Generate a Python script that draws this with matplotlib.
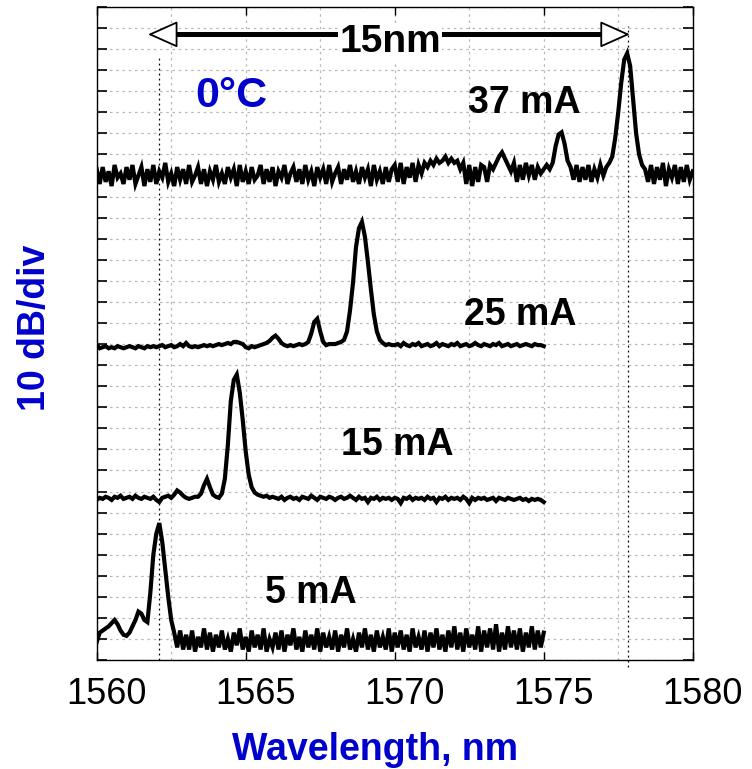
import numpy as np
import matplotlib
matplotlib.use('Agg')
import matplotlib.pyplot as plt
from matplotlib.transforms import ScaledTranslation

plt.rcParams['font.family'] = ['Liberation Sans', 'DejaVu Sans']

BLUE = '#0000cc'
STEP = 0.1  # nm between samples

# 37 mA trace, 1560.0 .. 1580.0 nm, in divisions (10 dB/div, stacked offset)
trace_37 = [
    23.3, 22.6, 23.4, 22.7, 23.2, 22.5, 23.5, 22.9, 23.1, 22.6,
    23.4, 22.8, 23.5, 22.6, 23.0, 23.4, 22.5, 23.3, 22.7, 23.5,
    22.6, 23.2, 22.9, 23.6, 22.7, 23.1, 22.5, 23.4, 22.8, 23.3,
    22.6, 23.5, 22.7, 23.0, 23.4, 22.6, 23.3, 22.5, 23.2, 22.8,
    23.5, 22.7, 23.1, 22.6, 23.4, 22.9, 23.3, 22.5, 23.5, 22.7,
    23.2, 22.6, 23.4, 22.8, 23.0, 23.5, 22.6, 23.3, 22.7, 23.4,
    22.5, 23.2, 22.9, 23.5, 22.6, 23.1, 23.4, 22.7, 23.3, 22.6,
    23.5, 22.8, 23.2, 22.5, 23.4, 22.9, 23.3, 22.6, 23.5, 22.7,
    23.1, 23.4, 22.6, 23.3, 22.8, 23.5, 22.7, 23.2, 22.6, 23.4,
    22.9, 23.3, 22.5, 23.5, 22.8, 23.2, 22.6, 23.4, 22.7, 23.3,
    23.5, 22.7, 23.6, 22.6, 23.4, 22.9, 23.6, 22.7, 23.5, 23.1,
    23.6, 23.4, 23.7, 23.5, 23.8, 23.6, 23.7, 23.9, 23.6, 23.8,
    23.6, 23.7, 23.3, 23.6, 22.6, 23.5, 22.5, 23.4, 22.7, 23.5,
    23.4, 22.7, 23.5, 23.3, 23.6, 23.9, 24.1, 23.8, 23.5, 23.2,
    23.6, 22.7, 23.5, 22.8, 23.6, 23.0, 23.5, 22.8, 23.4, 23.1,
    23.3, 23.5, 23.3, 23.6, 24.4, 24.95, 25.05, 24.5, 23.7, 23.4,
    22.8, 23.5, 22.7, 23.4, 22.8, 23.5, 22.7, 23.3, 22.9, 23.5,
    23.0, 23.4, 23.6, 23.9, 24.8, 26.0, 27.4, 28.5, 28.8, 28.2,
    26.6, 25.0, 24.0, 23.5, 23.3, 22.7, 23.5, 22.6, 23.4, 22.8,
    23.6, 22.5, 23.3, 22.9, 23.5, 22.6, 23.4, 22.7, 23.5, 22.8,
    23.2,
]

# 25 mA trace, 1560.0 .. 1575.0 nm
trace_25 = [
    14.95, 14.8, 14.85, 14.9, 14.8, 14.85, 14.8, 14.9, 14.85, 14.8,
    14.85, 14.9, 14.85, 14.8, 14.9, 14.85, 14.8, 14.9, 14.85, 14.9,
    14.85, 14.9, 14.95, 14.85, 14.9, 14.95, 14.85, 14.9, 15.0, 14.9,
    15.05, 14.9, 14.85, 14.9, 14.85, 14.9, 14.95, 14.9, 14.95, 14.9,
    14.95, 15.0, 14.95, 15.0, 15.05, 15.0, 15.1, 15.1, 15.05, 15.0,
    14.85, 14.8, 14.9, 14.85, 14.9, 14.95, 15.0, 15.05, 15.15, 15.3,
    15.4, 15.25, 15.05, 14.95, 14.9, 14.95, 14.9, 14.95, 15.0, 14.95,
    15.0, 15.1, 15.5, 16.05, 16.2, 15.6, 15.1, 14.95, 15.0, 15.0,
    15.0, 15.05, 15.1, 15.2, 15.6, 16.6, 17.9, 19.6, 20.5, 20.8,
    20.1, 18.9, 17.6, 16.4, 15.6, 15.2, 15.05, 14.95, 15.0, 14.95,
    14.95, 15.0, 14.9, 15.05, 14.95, 14.9, 15.0, 14.95, 15.05, 14.9,
    14.95, 15.0, 14.9, 14.95, 15.05, 14.9, 15.0, 14.95, 14.9, 15.0,
    14.95, 15.05, 14.9, 14.95, 15.0, 14.9, 14.95, 15.05, 14.95, 14.9,
    15.0, 14.95, 14.9, 15.0, 14.95, 15.05, 14.9, 14.95, 15.0, 14.9,
    14.95, 15.0, 14.9, 14.95, 15.0, 14.95, 14.9, 15.0, 14.95, 14.95,
    14.9,
]

# 15 mA trace, 1560.0 .. 1575.0 nm
trace_15 = [
    7.6, 7.7, 7.65, 7.75, 7.7, 7.6, 7.75, 7.7, 7.8, 7.65,
    7.7, 7.75, 7.65, 7.8, 7.7, 7.65, 7.75, 7.7, 7.65, 7.75,
    7.6, 7.5, 7.7, 7.75, 7.8, 7.7, 7.85, 8.05, 7.95, 7.8,
    7.7, 7.65, 7.7, 7.75, 7.75, 7.9, 8.3, 8.6, 8.2, 7.85,
    7.75, 7.7, 7.9, 8.6, 10.2, 12.3, 13.3, 13.55, 12.7, 11.4,
    9.9, 8.8, 8.2, 7.95, 7.85, 7.8, 7.75, 7.8, 7.7, 7.75,
    7.7, 7.65, 7.75, 7.6, 7.7, 7.75, 7.65, 7.7, 7.6, 7.75,
    7.7, 7.65, 7.8, 7.7, 7.6, 7.75, 7.7, 7.65, 7.75, 7.7,
    7.6, 7.7, 7.75, 7.65, 7.7, 7.8, 7.7, 7.6, 7.75, 7.65,
    7.7, 7.5, 7.7, 7.65, 7.75, 7.6, 7.7, 7.65, 7.7, 7.6,
    7.7, 7.65, 7.45, 7.7, 7.65, 7.75, 7.6, 7.7, 7.65, 7.7,
    7.6, 7.75, 7.65, 7.7, 7.5, 7.7, 7.65, 7.75, 7.6, 7.7,
    7.65, 7.7, 7.6, 7.75, 7.65, 7.45, 7.7, 7.6, 7.7, 7.65,
    7.7, 7.6, 7.65, 7.7, 7.55, 7.7, 7.65, 7.6, 7.7, 7.65,
    7.6, 7.65, 7.7, 7.6, 7.65, 7.55, 7.65, 7.6, 7.65, 7.6,
    7.5,
]

# 5 mA trace, 1560.0 .. 1575.0 nm
trace_5 = [
    0.85, 1.3, 1.4, 1.5, 1.6, 1.75, 1.9, 1.7, 1.4, 1.2,
    1.15, 1.3, 1.6, 1.9, 2.3, 2.2, 1.9, 1.8, 3.2, 5.0,
    6.0, 6.5, 5.6, 4.3, 3.0, 1.9, 1.3, 0.6, 1.4, 0.5,
    1.2, 0.5, 1.4, 0.4, 1.1, 0.6, 1.5, 0.5, 1.3, 0.4,
    1.2, 0.6, 1.4, 0.5, 1.0, 0.4, 1.3, 0.7, 1.5, 0.5,
    1.1, 0.4, 1.4, 0.6, 1.2, 0.5, 1.5, 0.4, 1.0, 0.6,
    1.3, 0.5, 1.4, 0.4, 1.2, 0.7, 1.5, 0.5, 1.1, 0.4,
    1.4, 0.6, 1.2, 0.5, 1.5, 0.4, 1.3, 0.6, 1.1, 0.5,
    1.4, 0.4, 1.2, 0.6, 1.5, 0.5, 1.0, 0.4, 1.3, 0.6,
    1.5, 0.5, 1.2, 0.4, 1.4, 0.6, 1.1, 0.5, 1.5, 0.4,
    1.3, 0.6, 1.4, 0.5, 1.2, 0.4, 1.5, 0.6, 1.1, 0.5,
    1.4, 0.4, 1.3, 0.6, 1.5, 0.5, 1.2, 0.4, 1.4, 0.6,
    1.6, 0.5, 1.3, 0.4, 1.5, 0.6, 1.2, 0.5, 1.6, 0.4,
    1.4, 0.6, 1.5, 0.5, 1.7, 0.4, 1.3, 0.5, 1.6, 0.6,
    1.4, 0.5, 1.5, 0.4, 1.3, 0.6, 1.6, 0.5, 1.4, 0.6,
    1.3,
]

traces = [trace_5, trace_15, trace_25, trace_37]
labels = ['5 mA', '15 mA', '25 mA', '37 mA']
label_pos = [(1567.19, 2.7), (1570.08, 9.73), (1574.22, 15.9), (1574.35, 25.97)]

peak_left = 1562.09
peak_right = 1577.84
x_ticks = [1560, 1565, 1570, 1575, 1580]


fig = plt.figure(figsize=(7.52, 7.69), dpi=100)
ax = fig.add_axes([0.1286, 0.1417, 0.7926, 0.8492])

for tr in traces:
    xs = 1560 + STEP * np.arange(len(tr))
    ax.plot(xs, tr, color='black', lw=3.0, solid_joinstyle='miter', zorder=3)

ax.set_xlim(1560, 1580)
ax.set_ylim(0, 31)

ax.set_xticks(x_ticks)
ax.set_xticks(np.arange(1560, 1580.1, 2.5), minor=True)
ax.set_yticks(np.arange(0, 32, 1))
ax.set_yticklabels([])
ax.tick_params(axis='x', which='major', direction='in', top=True, length=6,
               width=1, labelsize=26, pad=12)
ax.tick_params(axis='x', which='minor', length=0, top=True)
ax.tick_params(axis='y', direction='in', right=True, length=7, width=1.2)
offset = ScaledTranslation(10 / 100, 0, fig.dpi_scale_trans)
for lab in ax.get_xticklabels():
    lab.set_transform(lab.get_transform() + offset)

ax.grid(True, which='both', axis='x', color='#b8b8b8', lw=0.9, ls=(0, (2, 3)))
ax.grid(True, which='major', axis='y', color='#b8b8b8', lw=0.9, ls=(0, (2, 3)))
ax.set_axisbelow(True)
for sp in ax.spines.values():
    sp.set_linewidth(1.0)

# dotted markers at the two lasing lines
ax.plot([peak_left, peak_left], [0, 28.6], color='black', lw=0.9, ls=(0, (1.5, 2.5)))
ax.plot([peak_right, peak_right], [-0.35, 30.1], color='black', lw=0.9,
        ls=(0, (1.5, 2.5)), clip_on=False)

# 15 nm span arrow: thick shaft plus open heads
arrow_y = 29.7
ax.plot([1562.4, 1577.2], [arrow_y, arrow_y], color='black', lw=3.6,
        solid_capstyle='butt', zorder=4)
head = dict(arrowstyle='-|>,head_length=1.9,head_width=0.85', lw=1.3,
            fc='white', ec='black', shrinkA=0, shrinkB=0)
ax.annotate('', xy=(1561.72, arrow_y), xytext=(1563.0, arrow_y),
            arrowprops=head, zorder=5)
ax.annotate('', xy=(1577.89, arrow_y), xytext=(1576.6, arrow_y),
            arrowprops=head, zorder=5)
ax.text(1569.84, 28.86, '15nm', fontsize=28, fontweight='bold', ha='center',
        va='baseline', zorder=6, bbox=dict(fc='white', ec='none', pad=1))

ax.text(1564.53, 26.25, '0°C', fontsize=31, fontweight='bold', color=BLUE,
        ha='center', va='baseline')

for lab, (lx, ly) in zip(labels, label_pos):
    ax.text(lx, ly, lab, fontsize=27, fontweight='bold', ha='center', va='baseline')

fig.text(375 / 752, 1 - 760 / 769, 'Wavelength, nm', fontsize=27, fontweight='bold',
         color=BLUE, ha='center', va='baseline')
fig.text(35 / 752, 1 - 328 / 769, '10 dB/div', fontsize=27, fontweight='bold',
         color=BLUE, ha='center', va='center', rotation=90)

fig.savefig('out.png', dpi=100)
